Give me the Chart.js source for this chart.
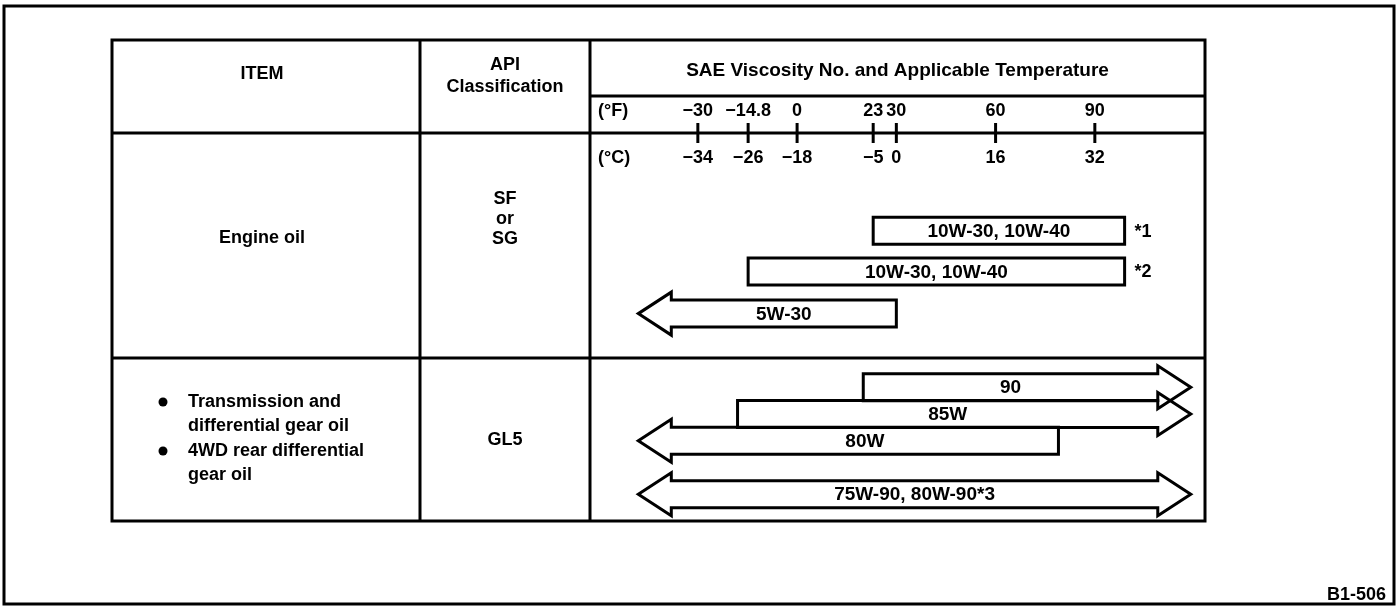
<!DOCTYPE html>
<html><head><meta charset="utf-8">
<script src="https://cdn.jsdelivr.net/npm/chart.js@4.4.1/dist/chart.umd.min.js"></script>
<style>html,body{margin:0;padding:0;background:#fff}canvas{display:block}</style>
</head><body>
<canvas id="c" width="1400" height="609"></canvas>
<script>
// --- Graduations (°F en haut, °C en bas) ---
const fTicks  = [-30, -14.8, 0, 23, 30, 60, 90];
const fLabels = ['−30', '−14.8', '0', '23', '30', '60', '90'];
const cLabels = ['−34', '−26', '−18', '−5', '0', '16', '32'];

// --- Plages de viscosité (en °F) ---
const grades    = ['10W-30, 10W-40', '10W-30, 10W-40', '5W-30', '90', '85W', '80W', '75W-90, 80W-90*3'];
const fromF     = [23, -14.8, -48, 20, -18, -48, -48];
const toF       = [99, 99, 30, 119, 119, 79, 119];
const lane      = [7.3, 10.35, 13.5, 19, 21, 23, 27];
const openLeft  = [0, 0, 1, 0, 0, 1, 1];
const openRight = [0, 0, 0, 1, 1, 0, 1];
const notes     = ['*1', '*2', '', '', '', '', ''];

// --- Textes du tableau ---
const engineItem = 'Engine oil';
const engineApi  = ['SF', 'or', 'SG'];
const gearItem   = ['Transmission and', 'differential gear oil', '4WD rear differential', 'gear oil'];
const gearBullet = [1, 0, 1, 0];
const gearApi    = 'GL5';

// géométrie du tableau (px)
const T = { left: 112, right: 1205, top: 40, sae: 96, axis: 133, mid: 358, bottom: 521, c1: 420, c2: 590 };
const FONT = '"Liberation Sans", Arial, sans-serif';

function txt(ctx, s, x, y, size, align) {
  ctx.font = 'bold ' + size + 'px ' + FONT;
  ctx.textAlign = align || 'center';
  ctx.textBaseline = 'middle';
  ctx.fillText(s, x, y);
}

function line(ctx, x1, y1, x2, y2) {
  ctx.beginPath(); ctx.moveTo(x1, y1); ctx.lineTo(x2, y2); ctx.stroke();
}

const tablePlugin = {
  id: 'table',
  beforeDraw(chart) {
    const ctx = chart.ctx;
    ctx.save();
    ctx.fillStyle = '#fff';
    ctx.fillRect(0, 0, chart.width, chart.height);
    ctx.strokeStyle = '#000';
    ctx.fillStyle = '#000';
    ctx.lineWidth = 3;
    // cadre extérieur
    ctx.strokeRect(4, 6, 1390, 598);
    // tableau
    ctx.strokeRect(T.left, T.top, T.right - T.left, T.bottom - T.top);
    line(ctx, T.c1, T.top, T.c1, T.bottom);
    line(ctx, T.c2, T.top, T.c2, T.bottom);
    line(ctx, T.c2, T.sae, T.right, T.sae);
    line(ctx, T.left, T.axis, T.right, T.axis);
    line(ctx, T.left, T.mid, T.right, T.mid);

    // en-têtes
    const cx1 = (T.left + T.c1) / 2, cx2 = (T.c1 + T.c2) / 2;
    txt(ctx, 'ITEM', cx1 - 4, 74, 18);
    txt(ctx, 'API', cx2, 65, 18);
    txt(ctx, 'Classification', cx2, 87, 18);
    txt(ctx, 'SAE Viscosity No. and Applicable Temperature', (T.c2 + T.right) / 2, 71, 19);

    // graduations
    const xs = chart.scales.x;
    txt(ctx, '(°F)', 598, 111, 18, 'left');
    txt(ctx, '(°C)', 598, 158, 18, 'left');
    fTicks.forEach((v, i) => {
      const px = xs.getPixelForValue(v);
      line(ctx, px, T.axis - 10, px, T.axis + 10);
      txt(ctx, fLabels[i], px, 111, 18);
      txt(ctx, cLabels[i], px, 158, 18);
    });

    // colonne ITEM / API
    txt(ctx, engineItem, cx1 - 4, 238, 18);
    engineApi.forEach((s, i) => txt(ctx, s, cx2, 199 + i * 20, 18));
    gearItem.forEach((s, i) => {
      const y = 402 + i * 24.5;
      if (gearBullet[i]) {
        ctx.beginPath(); ctx.arc(163, y, 4.5, 0, Math.PI * 2); ctx.fill();
      }
      txt(ctx, s, 188, y, 18, 'left');
    });
    txt(ctx, gearApi, cx2, 440, 18);

    txt(ctx, 'B1-506', 1386, 595, 18, 'right');
    ctx.restore();
  },
  afterDatasetsDraw(chart) {
    const ctx = chart.ctx;
    const meta = chart.getDatasetMeta(0);
    ctx.save();
    ctx.strokeStyle = '#000';
    ctx.fillStyle = '#000';
    ctx.lineWidth = 3;
    ctx.lineJoin = 'miter';
    const L = 33, E = 8;
    meta.data.forEach((el, i) => {
      const p = el.getProps(['x', 'y', 'base', 'height'], true);
      const l = Math.min(p.x, p.base), r = Math.max(p.x, p.base);
      const t = p.y - p.height / 2, b = p.y + p.height / 2, cy = p.y;
      ctx.beginPath();
      ctx.moveTo(openLeft[i] ? l + L : l, t);
      if (openRight[i]) {
        ctx.lineTo(r - L, t); ctx.lineTo(r - L, t - E); ctx.lineTo(r, cy);
        ctx.lineTo(r - L, b + E); ctx.lineTo(r - L, b);
      } else {
        ctx.lineTo(r, t); ctx.lineTo(r, b);
      }
      if (openLeft[i]) {
        ctx.lineTo(l + L, b); ctx.lineTo(l + L, b + E); ctx.lineTo(l, cy);
        ctx.lineTo(l + L, t - E); ctx.closePath();
      } else {
        ctx.lineTo(l, b); ctx.closePath();
      }
      ctx.stroke();
      const sl = openLeft[i] ? l + L : l, sr = openRight[i] ? r - L : r;
      txt(ctx, grades[i], (sl + sr) / 2, cy + 1, 19);
      if (notes[i]) txt(ctx, notes[i], r + 10, cy + 1, 18, 'left');
    });
    ctx.restore();
  }
};

new Chart(document.getElementById('c'), {
  type: 'bar',
  data: {
    datasets: [{
      data: grades.map((g, i) => ({ x: [fromF[i], toF[i]], y: lane[i] })),
      backgroundColor: 'rgba(0,0,0,0)',
      borderWidth: 0,
      barThickness: 27
    }]
  },
  options: {
    indexAxis: 'y',
    responsive: false,
    animation: false,
    devicePixelRatio: 1,
    layout: { padding: { left: T.c2, right: 1400 - T.right, top: T.axis, bottom: 609 - T.bottom } },
    scales: {
      x: { type: 'linear', min: -62.6, max: 123.3, display: false },
      y: { type: 'linear', min: 0, max: 29, reverse: true, offset: false, display: false }
    },
    plugins: { legend: { display: false }, tooltip: { enabled: false } }
  },
  plugins: [tablePlugin]
});
</script>
</body></html>
